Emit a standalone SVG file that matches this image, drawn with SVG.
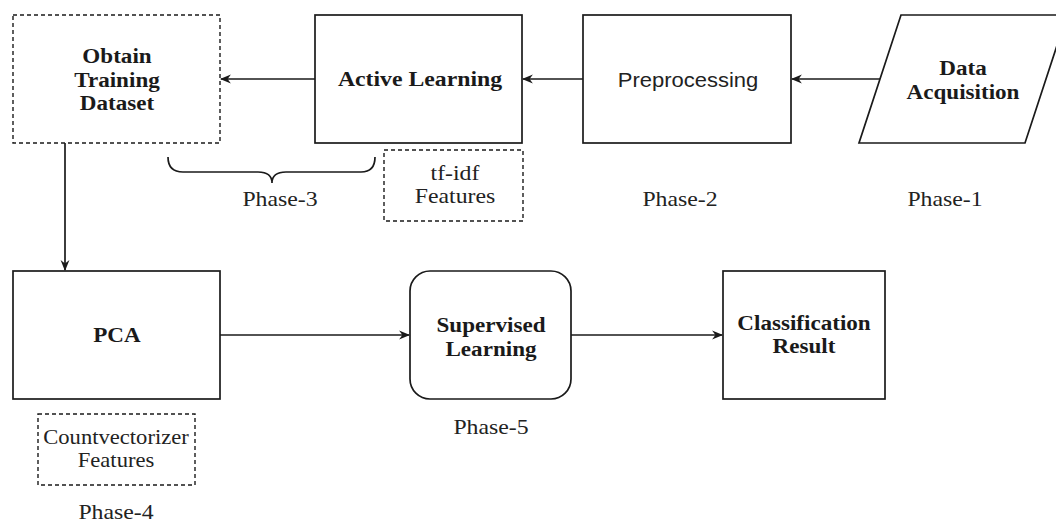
<svg xmlns="http://www.w3.org/2000/svg" width="1056" height="523" viewBox="0 0 1056 523">
<style>
.box{fill:#fff;stroke:#1a1a1a;stroke-width:1.7}
.dash{fill:#fff;stroke:#1a1a1a;stroke-width:1.4;stroke-dasharray:4 3}
.edge{fill:none;stroke:#1a1a1a;stroke-width:1.7}
.b{font-family:"Liberation Serif",serif;font-weight:bold;font-size:22px;fill:#1a1a1a;text-anchor:middle}
.r{font-family:"Liberation Serif",serif;font-size:22px;fill:#222;text-anchor:middle}
.s{font-family:"Liberation Sans",sans-serif;font-size:20px;fill:#222;text-anchor:middle}
</style>
<defs>
<marker id="arr" viewBox="0 0 10 10" refX="9" refY="5" markerWidth="11" markerHeight="11" markerUnits="userSpaceOnUse" orient="auto">
<path d="M0,1 L10,5 L0,9 L3,5 z" fill="#1a1a1a"/>
</marker>
</defs>
<rect width="1056" height="523" fill="#fff"/>
<g id="connectors">
<line class="edge" x1="880" y1="79" x2="792" y2="79" marker-end="url(#arr)"/>
<line class="edge" x1="583" y1="79" x2="523" y2="79" marker-end="url(#arr)"/>
<line class="edge" x1="315" y1="79" x2="221" y2="79" marker-end="url(#arr)"/>
<line class="edge" x1="65" y1="143" x2="65" y2="270" marker-end="url(#arr)"/>
<line class="edge" x1="220" y1="335" x2="409" y2="335" marker-end="url(#arr)"/>
<line class="edge" x1="571" y1="335" x2="722" y2="335" marker-end="url(#arr)"/>
</g>
<g id="obtain">
<rect class="dash" x="13" y="15" width="207" height="128"/>
<text class="b" transform="translate(117,0) scale(1.05,1)"><tspan x="0" y="63">Obtain</tspan><tspan x="0" y="87">Training</tspan><tspan x="0" y="110">Dataset</tspan></text>
</g>
<g id="active">
<rect class="box" x="315" y="15" width="207" height="128"/>
<text class="b" transform="translate(420,86) scale(1.08,1)" x="0" y="0">Active Learning</text>
</g>
<g id="preprocessing">
<rect class="box" x="583" y="15" width="208" height="128"/>
<text class="s" transform="translate(688,87) scale(1.1,1)" x="0" y="0">Preprocessing</text>
</g>
<g id="acquisition">
<polygon class="box" points="901,15 1067,15 1025,143 859,143"/>
<text class="b" transform="translate(963,0) scale(1.05,1)"><tspan x="0" y="75">Data</tspan><tspan x="0" y="99">Acquisition</tspan></text>
</g>
<g id="phase3">
<path class="edge" stroke-width="1.3" d="M168,157 Q168,172 183,172 L258,172 Q272,172 272,183 Q272,172 286,172 L361,172 Q375,172 375,157"/>
<text class="r" transform="translate(280,206) scale(1.08,1)" x="0" y="0">Phase-3</text>
</g>
<g id="tfidf">
<rect class="dash" x="384" y="150" width="139" height="71"/>
<text class="r" transform="translate(455,0) scale(1.08,1)"><tspan x="0" y="180">tf-idf</tspan><tspan x="0" y="203">Features</tspan></text>
</g>
<g id="phase2"><text class="r" transform="translate(680,206) scale(1.08,1)" x="0" y="0">Phase-2</text></g>
<g id="phase1"><text class="r" transform="translate(945,206) scale(1.08,1)" x="0" y="0">Phase-1</text></g>
<g id="pca">
<rect class="box" x="13" y="271" width="207" height="128"/>
<text class="b" transform="translate(117,342) scale(1.05,1)" x="0" y="0">PCA</text>
</g>
<g id="countvec">
<rect class="dash" x="38" y="414" width="157" height="71"/>
<text class="r" style="font-size:20px" transform="translate(116,0) scale(1.13,1)"><tspan x="0" y="444">Countvectorizer</tspan><tspan x="0" y="467">Features</tspan></text>
</g>
<g id="phase4"><text class="r" transform="translate(116,519) scale(1.08,1)" x="0" y="0">Phase-4</text></g>
<g id="supervised">
<rect class="box" x="410" y="271" width="161" height="128" rx="20" ry="20"/>
<text class="b" transform="translate(491,0) scale(1.05,1)"><tspan x="0" y="332">Supervised</tspan><tspan x="0" y="356">Learning</tspan></text>
</g>
<g id="phase5"><text class="r" transform="translate(491,434) scale(1.08,1)" x="0" y="0">Phase-5</text></g>
<g id="classification">
<rect class="box" x="723" y="271" width="162" height="128"/>
<text class="b" transform="translate(804,0) scale(1.05,1)"><tspan x="0" y="330">Classification</tspan><tspan x="0" y="353">Result</tspan></text>
</g>
</svg>
